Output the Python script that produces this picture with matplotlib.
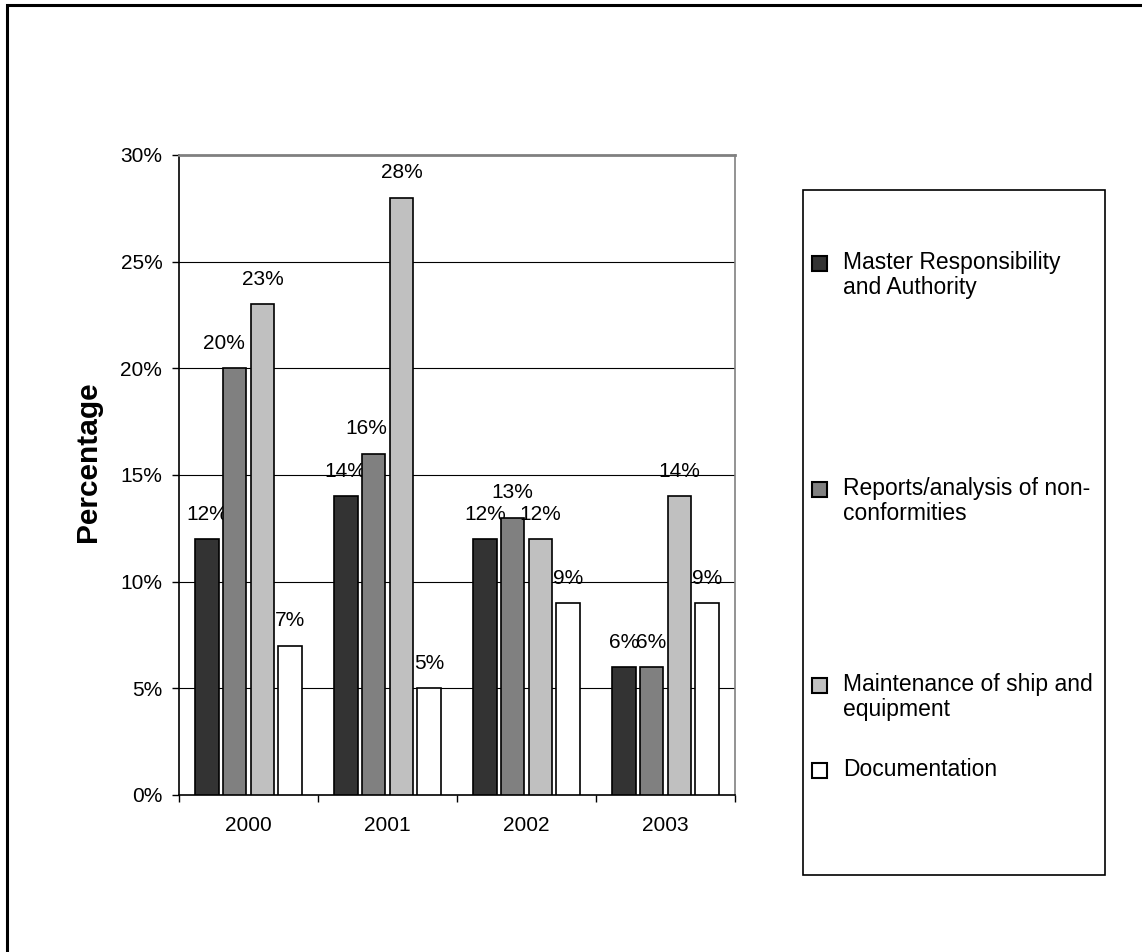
import matplotlib
matplotlib.use("Agg")
import matplotlib.pyplot as plt
from matplotlib.patches import Rectangle
from matplotlib.ticker import FuncFormatter, FixedLocator, NullFormatter

plt.rcParams['font.family'] = ['Liberation Sans', 'DejaVu Sans']

years = ["2000", "2001", "2002", "2003"]
series = [
    "Master Responsibility\nand Authority",
    "Reports/analysis of non-\nconformities",
    "Maintenance of ship and\nequipment",
    "Documentation",
]
master = [12, 14, 12, 6]
reports = [20, 16, 13, 6]
maintenance = [23, 28, 12, 14]
documentation = [7, 5, 9, 9]
values = [master, reports, maintenance, documentation]
colors = ["#333333", "#808080", "#C0C0C0", "#FFFFFF"]
yticks = [0, 5, 10, 15, 20, 25, 30]

# horizontal nudges (points) for value labels, keyed by (series, year index)
label_nudge = {(1, 0): -8, (1, 1): -5}

W, H = 1142, 952
fig = plt.figure(figsize=(W / 100, H / 100), dpi=100)

# outer frame of the chart
fig.patches.append(Rectangle((7 / W, -0.05), 1.2, 1 - 5 / H + 0.05,
                             transform=fig.transFigure, fill=False,
                             edgecolor="black", linewidth=2.2))

ax = fig.add_axes([179 / W, 1 - 795 / H, (735 - 179) / W, (795 - 155) / H])

x = range(len(years))
offsets = [-0.3, -0.1, 0.1, 0.3]
width = 0.17
for s, (vals, off, col) in enumerate(zip(values, offsets, colors)):
    xs = [i + off for i in x]
    bars = ax.bar(xs, vals, width=width, color=col, edgecolor="black",
                  linewidth=1.2, zorder=3)
    for j, (b, v) in enumerate(zip(bars, vals)):
        dx = label_nudge.get((s, j), 0)
        ax.annotate(f"{v}%", (b.get_x() + b.get_width() / 2, v),
                    xytext=(dx, 11), textcoords="offset points",
                    ha="center", va="bottom", fontsize=15)

ax.set_xlim(-0.5, 3.5)
ax.set_ylim(0, 30)
ax.set_yticks(yticks)
ax.yaxis.set_major_formatter(FuncFormatter(lambda v, p: f"{v:.0f}%"))
for y in yticks[1:-1]:
    ax.axhline(y, color="black", linewidth=0.8, zorder=1)

ax.xaxis.set_major_locator(FixedLocator([-0.5, 0.5, 1.5, 2.5, 3.5]))
ax.xaxis.set_major_formatter(NullFormatter())
ax.xaxis.set_minor_locator(FixedLocator(list(x)))
ax.set_xticks(list(x), years, minor=True)
ax.tick_params(axis="x", which="major", direction="out", length=5, width=1)
ax.tick_params(axis="x", which="minor", length=0, pad=15, labelsize=15)
ax.tick_params(axis="y", direction="out", length=5, width=1, pad=7,
               labelsize=15)

ax.spines["left"].set_color("black")
ax.spines["bottom"].set_color("black")
ax.spines["left"].set_linewidth(1.2)
ax.spines["bottom"].set_linewidth(1.2)
ax.spines["top"].set_color("#808080")
ax.spines["right"].set_color("#808080")
ax.spines["top"].set_linewidth(2)
ax.spines["right"].set_linewidth(1.2)

fig.text(88 / W, 1 - 462 / H, "Percentage", rotation=90, ha="center",
         va="center", fontsize=21.5, fontweight="bold")

# legend panel
fig.patches.append(Rectangle((803 / W, 1 - 875 / H), (1105 - 803) / W,
                             (875 - 190) / H, transform=fig.transFigure,
                             facecolor="white", edgecolor="black",
                             linewidth=1.2))
entry_y = [263, 489, 685, 770]
for label, col, yc in zip(series, colors, entry_y):
    fig.patches.append(Rectangle((812 / W, 1 - (yc + 8) / H), 15 / W, 15 / H,
                                 transform=fig.transFigure, facecolor=col,
                                 edgecolor="black", linewidth=1.5))
    fig.text(843 / W, 1 - (yc - 12) / H, label, ha="left", va="top",
             fontsize=16.5, linespacing=1.1)

fig.savefig("out.png", dpi=100)
